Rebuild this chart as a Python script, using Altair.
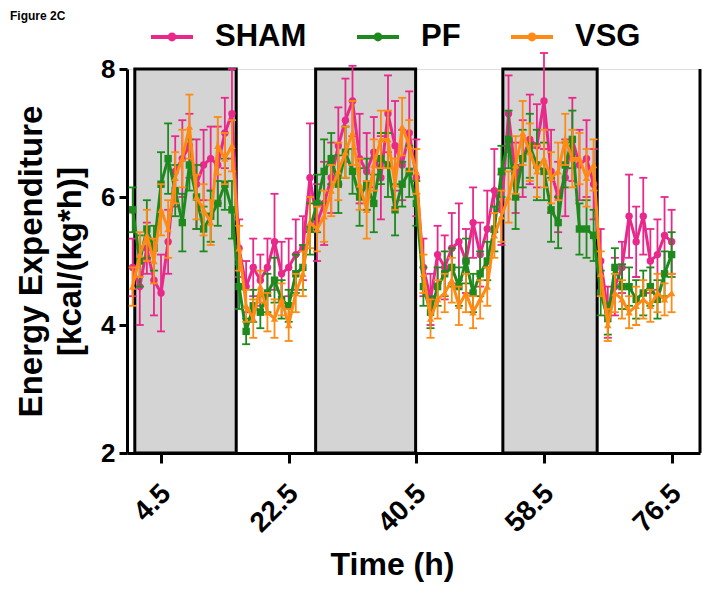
import altair as alt
import pandas as pd

# ---------------- data ----------------
time_h = [0.5 + i for i in range(77)]

sham_mean = [4.9, 4.6, 5.2, 4.7, 4.5, 5.3, 6.4, 6.6, 6.8, 6.2, 6.5,
             6.6, 6.5, 7.0, 7.3, 5.2, 4.6, 4.9, 4.7, 4.9, 5.3, 4.8,
             4.9, 5.1, 5.2, 6.3, 5.6, 5.9, 6.3, 6.8, 7.2, 7.5, 6.6,
             6.4, 6.7, 6.3, 7.3, 6.8, 6.5, 7.0, 6.3, 4.9, 4.4, 5.1,
             4.9, 5.2, 5.3, 5.0, 5.6, 5.1, 5.5, 6.1, 5.8, 7.3, 6.3,
             6.6, 6.9, 6.8, 7.5, 6.4, 6.0, 6.3, 6.9, 6.5, 6.6, 6.2,
             5.0, 4.2, 4.6, 4.9, 5.7, 5.3, 5.7, 5.0, 5.1, 5.4, 5.3]
sham_sem = [0.45, 0.60, 0.40, 0.55, 0.60, 0.50, 0.55, 0.60, 0.50, 0.70, 0.55,
            0.50, 0.60, 0.55, 0.70, 0.45, 0.40, 0.45, 0.40, 0.45, 0.75, 0.50,
            0.45, 0.55, 0.50, 0.85, 0.60, 0.65, 0.55, 0.60, 0.65, 0.55, 0.70,
            0.60, 0.55, 0.65, 0.60, 0.70, 0.55, 0.65, 0.60, 0.45, 0.40, 0.45,
            0.50, 0.55, 0.60, 0.50, 0.55, 0.50, 0.60, 0.65, 0.55, 0.60, 0.55,
            0.60, 0.70, 0.65, 0.75, 0.65, 0.55, 0.60, 0.65, 0.55, 0.60, 0.55,
            0.50, 0.40, 0.45, 0.40, 0.65, 0.55, 0.60, 0.50, 0.55, 0.60, 0.50]

pf_mean = [5.8, 5.0, 5.5, 5.2, 6.2, 6.6, 6.1, 5.6, 6.5, 6.0, 5.5,
           5.7, 5.9, 6.2, 5.8, 4.6, 3.9, 4.3, 4.2, 4.5, 4.7, 4.4,
           4.3, 4.8, 4.9, 5.5, 5.9, 6.4, 6.6, 6.2, 6.7, 6.4, 6.0,
           6.2, 5.9, 6.6, 6.5, 5.8, 6.2, 6.4, 5.9, 4.6, 4.2, 4.6,
           4.8, 4.9, 4.6, 5.0, 4.5, 4.8, 5.0, 5.5, 6.4, 6.9, 6.0,
           6.6, 6.8, 6.5, 6.4, 5.8, 5.6, 6.5, 6.9, 5.5, 5.5, 5.4,
           4.5, 4.1, 4.9, 4.6, 4.6, 4.4, 4.5, 4.6, 4.4, 4.8, 5.1]
pf_sem = [0.35, 0.40, 0.45, 0.35, 0.50, 0.55, 0.40, 0.45, 0.40, 0.50, 0.35,
          0.40, 0.35, 0.40, 0.45, 0.35, 0.20, 0.25, 0.25, 0.30, 0.35, 0.30,
          0.25, 0.30, 0.35, 0.40, 0.45, 0.50, 0.40, 0.45, 0.40, 0.35, 0.45,
          0.40, 0.45, 0.40, 0.50, 0.40, 0.35, 0.40, 0.35, 0.30, 0.25, 0.30,
          0.35, 0.30, 0.30, 0.35, 0.30, 0.35, 0.30, 0.35, 0.40, 0.45, 0.50,
          0.45, 0.50, 0.55, 0.45, 0.50, 0.40, 0.35, 0.45, 0.40, 0.45, 0.40,
          0.35, 0.25, 0.30, 0.35, 0.30, 0.30, 0.35, 0.30, 0.30, 0.35, 0.35]

vsg_mean = [4.6, 5.1, 5.4, 5.0, 5.8, 5.5, 6.3, 6.6, 7.1, 6.0, 5.8,
            5.6, 6.8, 6.6, 6.8, 5.2, 4.3, 4.1, 4.6, 4.2, 4.1, 4.4,
            4.0, 4.5, 4.8, 5.6, 5.5, 5.7, 6.1, 6.4, 6.7, 7.0, 6.2,
            5.8, 6.5, 6.9, 6.9, 6.2, 7.1, 6.8, 6.4, 4.8, 4.1, 4.4,
            4.5, 4.7, 4.3, 4.5, 4.2, 4.4, 4.6, 5.4, 5.7, 6.0, 6.5,
            7.0, 6.7, 6.4, 6.6, 6.3, 6.4, 6.9, 6.6, 6.6, 6.3, 6.5,
            4.8, 4.0, 4.5, 4.4, 4.2, 4.3, 4.4, 4.3, 4.5, 4.4, 4.5]
vsg_sem = [0.30, 0.35, 0.40, 0.35, 0.40, 0.45, 0.40, 0.45, 0.50, 0.35, 0.40,
           0.35, 0.45, 0.40, 0.40, 0.35, 0.25, 0.30, 0.25, 0.30, 0.30, 0.25,
           0.25, 0.30, 0.35, 0.40, 0.35, 0.40, 0.40, 0.45, 0.40, 0.50, 0.40,
           0.45, 0.40, 0.45, 0.45, 0.40, 0.45, 0.40, 0.35, 0.30, 0.30, 0.30,
           0.30, 0.35, 0.30, 0.30, 0.25, 0.30, 0.30, 0.35, 0.40, 0.40, 0.45,
           0.50, 0.45, 0.40, 0.45, 0.40, 0.45, 0.40, 0.45, 0.40, 0.45, 0.40,
           0.35, 0.25, 0.30, 0.30, 0.25, 0.30, 0.30, 0.25, 0.30, 0.25, 0.30]

dark_start = [0.8, 26.3, 52.7]
dark_end = [15.1, 40.4, 66.0]
next_dark_start = [80.5]

groups = ["SHAM", "PF", "VSG"]
group_colors = ["#E8298B", "#1E8A1E", "#FF8A14"]
group_shapes = ["circle", "square", "triangle-up"]
x_ticks = [4.5, 22.5, 40.5, 58.5, 76.5]
y_ticks = [2, 4, 6, 8]

# ---------------- tables ----------------
series = {"SHAM": (sham_mean, sham_sem), "PF": (pf_mean, pf_sem), "VSG": (vsg_mean, vsg_sem)}
rows = []
for g in groups:
    m_list, s_list = series[g]
    for t, m, s in zip(time_h, m_list, s_list):
        rows.append({"time": t, "group": g, "mean": m, "lo": m - s, "hi": m + s})
df = pd.DataFrame(rows)
dark_df = pd.DataFrame({"start": dark_start, "end": dark_end})
edge_df = pd.DataFrame({"start": next_dark_start})

FONT = "Liberation Sans, Arial, Helvetica, sans-serif"

xscale = alt.Scale(domain=[-0.3, 80.5], nice=False, zero=False)
yscale = alt.Scale(domain=[2, 8], nice=False, zero=False)
cscale = alt.Scale(domain=groups, range=group_colors)

legend_path = ("M-1,-0.09L1,-0.09L1,0.09L-1,0.09Z "
               "M0.21,0A0.21,0.21,0,1,1,-0.21,0A0.21,0.21,0,1,1,0.21,0Z")
legend = alt.Legend(
    title=None, orient="none", direction="horizontal", legendX=24, legendY=-53,
    labelFont=FONT, labelFontSize=31, labelFontWeight="bold", labelColor="black",
    symbolType=legend_path, symbolSize=1764, symbolStrokeWidth=0, symbolOpacity=1,
    labelOffset=22, columnPadding=50, gridAlign="each", labelLimit=300,
)

x_axis = alt.Axis(
    values=x_ticks, format=".1f", title="Time (h)", grid=False,
    labelAngle=-45, labelAlign="right", labelBaseline="middle",
    labelFont=FONT, labelFontSize=28, labelFontWeight="bold", labelColor="black",
    labelPadding=26, labelOffset=5, labelFlush=False, labelOverlap=False,
    titleFont=FONT, titleFontSize=32, titleFontWeight="bold", titleColor="black",
    titlePadding=12, titleX=265, titleAlign="center",
    domainColor="black", domainWidth=3,
    tickColor="black", tickWidth=3, tickSize=10,
)
y_axis = alt.Axis(
    values=y_ticks, format="d", title=["Energy Expenditure", "[kcal/(kg*h)]"], grid=False,
    labelFont=FONT, labelFontSize=26, labelFontWeight="bold", labelColor="black",
    labelPadding=4,
    titleFont=FONT, titleFontSize=33, titleFontWeight="bold", titleColor="black",
    titlePadding=13, titleLineHeight=39,
    domainColor="black", domainWidth=3, tickColor="black", tickWidth=3, tickSize=8,
)

dark = alt.Chart(dark_df).mark_rect(
    fill="#D4D4D4", stroke="black", strokeWidth=3
).encode(
    x=alt.X("start:Q", scale=xscale, axis=x_axis),
    x2="end:Q",
    y=alt.Y(datum=2, scale=yscale, axis=y_axis),
    y2=alt.datum(8),
)

edge = alt.Chart(edge_df).mark_rule(color="black", strokeWidth=3).encode(
    x=alt.X("start:Q", scale=xscale),
    y=alt.Y(datum=2, scale=yscale),
    y2=alt.datum(8),
)

layers = [dark, edge]
for g, shp in zip(groups, group_shapes):
    d = df[df["group"] == g]
    base = alt.Chart(d)
    color = alt.Color("group:N", scale=cscale, legend=legend)
    err = base.mark_rule(strokeWidth=1.8).encode(
        x=alt.X("time:Q", scale=xscale), y=alt.Y("lo:Q", scale=yscale), y2="hi:Q", color=color)
    caps_hi = base.mark_tick(orient="horizontal", size=8, thickness=1.8, opacity=1).encode(
        x=alt.X("time:Q", scale=xscale), y=alt.Y("hi:Q", scale=yscale), color=color)
    caps_lo = base.mark_tick(orient="horizontal", size=8, thickness=1.8, opacity=1).encode(
        x=alt.X("time:Q", scale=xscale), y=alt.Y("lo:Q", scale=yscale), color=color)
    line = base.mark_line(strokeWidth=3).encode(
        x=alt.X("time:Q", scale=xscale), y=alt.Y("mean:Q", scale=yscale), color=color)
    pts = base.mark_point(filled=True, size=55, shape=shp, opacity=1).encode(
        x=alt.X("time:Q", scale=xscale), y=alt.Y("mean:Q", scale=yscale), color=color)
    layers += [err, caps_hi, caps_lo, line, pts]

chart = alt.layer(*layers).properties(
    width=573, height=384,
    autosize=alt.AutoSizeParams(type="none"),
    padding={"left": 119, "top": 61, "right": 8, "bottom": 136},
    title=alt.TitleParams(
        "Figure 2C", anchor="start", frame="group", orient="top",
        font=FONT, fontSize=12, fontWeight="bold", color="black",
        dx=-117, dy=11,
    ),
).configure_view(stroke=None).configure(background="white")

chart.save("out.html", embed_options={"renderer": "svg", "actions": False})
